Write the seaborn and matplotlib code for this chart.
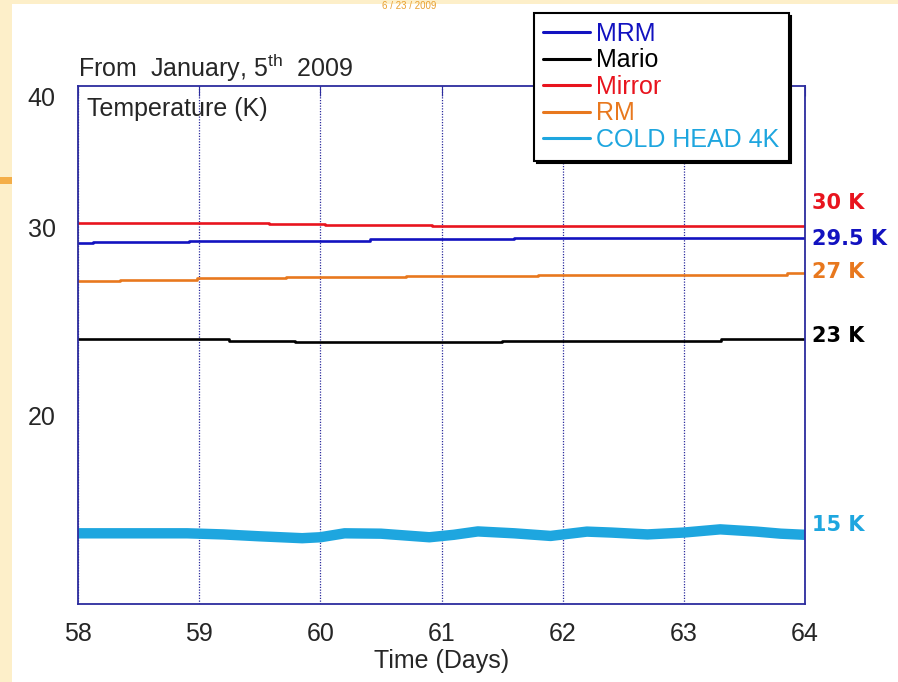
import matplotlib
matplotlib.use('Agg')
import matplotlib.pyplot as plt
import matplotlib.patches as mpatches
import numpy as np
import pandas as pd
import seaborn as sns

sns.set_style('white')
plt.rcParams['font.family'] = ['Liberation Sans', 'DejaVu Sans']
plt.rcParams['mathtext.default'] = 'regular'

# step series (day where the level starts, level in K)
mrm_days = [58.0, 58.12, 58.92, 60.41, 61.6, 62.9, 64.0]
mrm_temp = [29.19, 29.26, 29.33, 29.40, 29.44, 29.48, 29.48]

mario_days = [58.0, 59.25, 59.79, 61.5, 63.31, 64.0]
mario_temp = [24.08, 24.01, 23.94, 24.00, 24.12, 24.12]

mirror_days = [58.0, 58.15, 59.58, 60.04, 60.92, 62.0, 64.0]
mirror_temp = [30.28, 30.26, 30.21, 30.16, 30.10, 30.08, 30.08]

rm_days = [58.0, 58.35, 58.98, 59.72, 60.71, 61.8, 63.85, 64.0]
rm_temp = [27.18, 27.25, 27.33, 27.39, 27.47, 27.52, 27.60, 27.60]

cold_days = [58.0, 58.5, 58.9, 59.2, 59.5, 59.85, 60.0, 60.2, 60.5, 60.9, 61.1,
             61.3, 61.6, 61.9, 62.2, 62.4, 62.7, 63.0, 63.3, 63.6, 63.8, 64.0]
cold_temp = [13.76, 13.76, 13.76, 13.70, 13.60, 13.50, 13.55, 13.76, 13.74, 13.55, 13.68,
             13.86, 13.76, 13.62, 13.85, 13.80, 13.70, 13.80, 13.97, 13.85, 13.74, 13.68]

series_names = ['MRM', 'Mario', 'Mirror', 'RM', 'COLD HEAD 4K']
series_colors = ['#1212c0', '#000000', '#e8141e', '#e8781e', '#1ea6df']

end_labels = ['30 K', '29.5 K', '27 K', '23 K', '15 K']
end_label_colors = ['#e8141e', '#1212c0', '#e8781e', '#000000', '#1ea6df']
end_label_y = [31.33, 29.41, 27.66, 24.26, 14.20]

x_ticks = [58, 59, 60, 61, 62, 63, 64]
y_tick_pos = [20, 30, 37]
y_tick_labels = ['20', '30', '40']

navy = '#2c2c9e'

fig = plt.figure(figsize=(8.98, 6.82), dpi=100, facecolor='white')
# slide background strips
fig.patches.append(mpatches.Rectangle((0, 0), 12 / 898, 1, transform=fig.transFigure,
                                      facecolor='#fdefc9', edgecolor='none', zorder=0))
fig.patches.append(mpatches.Rectangle((0, 1 - 4 / 682), 1, 4 / 682, transform=fig.transFigure,
                                      facecolor='#fdefc9', edgecolor='none', zorder=0))
fig.patches.append(mpatches.Rectangle((0, 1 - 184 / 682), 12 / 898, 7 / 682, transform=fig.transFigure,
                                      facecolor='#f4ae48', edgecolor='none', zorder=0))
fig.text(0.425, 0.999, '6 / 23 / 2009', color='#e8a030', fontsize=7, va='top', ha='left')

ax = fig.add_axes([78 / 898, 1 - 604 / 682, 727 / 898, 518 / 682])

step_data = [(mrm_days, mrm_temp), (mario_days, mario_temp),
             (mirror_days, mirror_temp), (rm_days, rm_temp)]
for name, color, (d, t) in zip(series_names[:4], series_colors[:4], step_data):
    df = pd.DataFrame({'day': d, 'temp': t})
    sns.lineplot(data=df, x='day', y='temp', ax=ax, color=color, lw=1.9,
                 drawstyle='steps-post', estimator=None, sort=False, label=name)

cold = pd.DataFrame({'day': cold_days, 'temp': cold_temp})
sns.lineplot(data=cold, x='day', y='temp', ax=ax, color=series_colors[4], lw=7.5,
             estimator=None, sort=False, label=series_names[4])

ax.set_xlim(58, 64)
ax.set_ylim(10, 37.55)
ax.set_xticks(x_ticks)
ax.set_yticks(y_tick_pos, labels=y_tick_labels)
ax.tick_params(axis='x', direction='in', length=7, color=navy, top=True,
               labelsize=18, pad=13)
ax.tick_params(axis='y', length=0, labelsize=18, pad=16)
ax.xaxis.grid(True, linestyle=(0, (1, 1.2)), color=navy, lw=0.9)
ax.yaxis.grid(False)
for s in ax.spines.values():
    s.set_color(navy)
    s.set_linewidth(1.3)
ax.set_xlabel('Time (Days)', fontsize=18, labelpad=2)
ax.set_ylabel('')
ax.text(0.012, 0.955, 'Temperature (K)', transform=ax.transAxes, fontsize=18, va='center')
ax.text(0.0, 1.035, 'From  January, 5$^{th}$  2009', transform=ax.transAxes, fontsize=18,
        va='center', ha='left')

for lab, col, yv in zip(end_labels, end_label_colors, end_label_y):
    ax.annotate(lab, xy=(1, yv), xycoords=('axes fraction', 'data'), xytext=(5, 0),
                textcoords='offset points', color=col, fontsize=15, fontweight='bold',
                family='DejaVu Sans', va='center', ha='left')

leg = ax.legend(loc='upper left', bbox_to_anchor=(534 / 898, 1 - 13 / 682),
                bbox_transform=fig.transFigure, fontsize=18, frameon=True, fancybox=False,
                shadow={'color': 'black', 'alpha': 1}, handlelength=1.9, handletextpad=0.25,
                labelspacing=0.1, borderpad=0.35, borderaxespad=0)
leg.get_frame().set_edgecolor('black')
leg.get_frame().set_linewidth(1.5)
for line in leg.get_lines():
    line.set_linewidth(2.2)
for txt, col in zip(leg.get_texts(), series_colors):
    txt.set_color(col)

fig.savefig('out.png', dpi=100, facecolor=fig.get_facecolor())
